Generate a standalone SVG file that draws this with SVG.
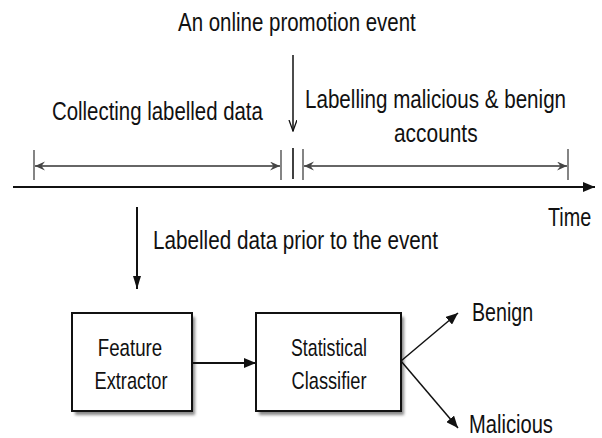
<svg xmlns="http://www.w3.org/2000/svg" width="602" height="438" viewBox="0 0 602 438">
<style>
text{font-family:"Liberation Sans",Arial,sans-serif;font-size:25.5px;fill:#111}
.bt{font-size:24px;text-anchor:middle}
.box{fill:#fff;stroke:#111;stroke-width:2}
.shadow{fill:#888;filter:url(#blur)}
.ln{stroke:#111;stroke-width:2;fill:none}
.thin{stroke:#111;stroke-width:1.5;fill:none}
.tick{stroke:#666;stroke-width:1.6}
.br{stroke:#333;stroke-width:1.6;fill:none}
</style>
<defs>
<filter id="blur" x="-10%" y="-10%" width="130%" height="130%"><feGaussianBlur stdDeviation="1.5"/></filter>
<marker id="fill" markerUnits="userSpaceOnUse" markerWidth="13" markerHeight="10" refX="12" refY="5" orient="auto"><path d="M0,0 L12,5 L0,10 z" fill="#111"/></marker>
<marker id="fillN" markerUnits="userSpaceOnUse" markerWidth="14" markerHeight="9" refX="13" refY="4" orient="auto"><path d="M0,0 L13,4 L0,8 z" fill="#111"/></marker>
<marker id="openv" markerUnits="userSpaceOnUse" markerWidth="12" markerHeight="10" refX="11" refY="4" orient="auto"><path d="M0,0 L11,4 L0,8" fill="none" stroke="#111" stroke-width="1.3"/></marker>
<marker id="barb" markerUnits="userSpaceOnUse" markerWidth="12" markerHeight="10" refX="10" refY="4.5" orient="auto-start-reverse"><path d="M0,0 L10,4.5 L0,9 L3.5,4.5 z" fill="#444"/></marker>
</defs>

<g id="labels">
<text transform="translate(178,31) scale(0.803,1)">An online promotion event</text>
<text transform="translate(52,120) scale(0.8,1)">Collecting labelled data</text>
<text transform="translate(305,108) scale(0.808,1)">Labelling malicious &amp; benign</text>
<text transform="translate(394,142) scale(0.82,1)">accounts</text>
<text transform="translate(548,226) scale(0.776,1)">Time</text>
<text transform="translate(153,249) scale(0.811,1)">Labelled data prior to the event</text>
</g>

<g id="timeline">
<line class="ln" x1="13" y1="187" x2="595" y2="187" marker-end="url(#fill)"/>
<line class="tick" x1="34" y1="150" x2="34" y2="180"/>
<line class="tick" x1="281" y1="150" x2="281" y2="180"/>
<line class="tick" x1="303" y1="149" x2="303" y2="180"/>
<line class="tick" x1="568" y1="149" x2="568" y2="180"/>
<line x1="293" y1="148" x2="293" y2="179" stroke="#111" stroke-width="1.6"/>
</g>

<g id="feature-extractor">
<rect class="shadow" x="75" y="317" width="120" height="98"/>
<rect class="box" x="72" y="313" width="120" height="98"/>
<text class="bt" transform="translate(130,356) scale(0.78,1)">Feature</text>
<text class="bt" transform="translate(131,389) scale(0.76,1)">Extractor</text>
</g>

<g id="statistical-classifier">
<rect class="shadow" x="259" y="317" width="145" height="98"/>
<rect class="box" x="256" y="313" width="145" height="98"/>
<text class="bt" transform="translate(329,356) scale(0.74,1)">Statistical</text>
<text class="bt" transform="translate(329,389) scale(0.76,1)">Classifier</text>
</g>

<g id="benign"><text transform="translate(472,321) scale(0.77,1)">Benign</text></g>
<g id="malicious"><text transform="translate(469,433) scale(0.79,1)">Malicious</text></g>

<g id="connectors">
<line class="br" x1="35" y1="166" x2="280" y2="166" marker-start="url(#barb)" marker-end="url(#barb)"/>
<line class="br" x1="304" y1="166" x2="567" y2="166" marker-start="url(#barb)" marker-end="url(#barb)"/>
<line class="thin" x1="293" y1="55" x2="293" y2="131" marker-end="url(#openv)"/>
<line class="ln" x1="137" y1="207" x2="137" y2="289" marker-end="url(#fillN)"/>
<line class="ln" x1="192" y1="363" x2="256" y2="363" marker-end="url(#fill)"/>
<line class="thin" x1="401" y1="361" x2="458" y2="313" marker-end="url(#fill)"/>
<line class="thin" x1="401" y1="361" x2="458" y2="428" marker-end="url(#fill)"/>
</g>
</svg>
